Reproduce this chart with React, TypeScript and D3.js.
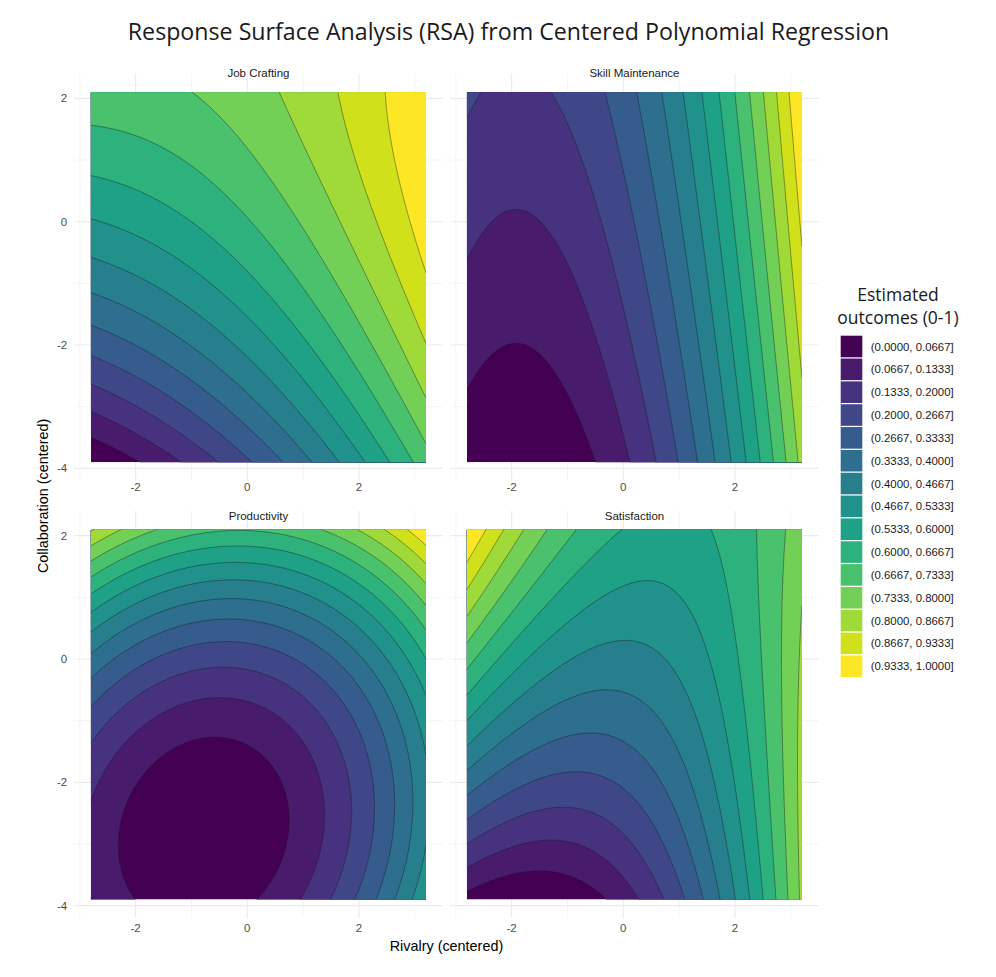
import React from "react";
import * as d3 from "d3";

// ---------- data ----------
const panelTitles = ["Job Crafting", "Skill Maintenance", "Productivity", "Satisfaction"];
// Centered quadratic RSA model per outcome (outcome scaled 0-1):
// z = b0 + b1*R + b2*C + b3*R^2 + b4*R*C + b5*C^2   (R = rivalry, C = collaboration)
const b0Intercept = [0.662, 0.2424, 0.2254, 0.4431];
const b1Rivalry = [0.0699, 0.1198, 0.0241, 0.0061];
const b2Collab = [0.0701, 0.0298, 0.1532, 0.079];
const b3RivalrySq = [0.00795, 0.0312, 0.029, 0.034];
const b4Interaction = [-0.01135, 0.0, -0.0075, -0.0279];
const b5CollabSq = [-0.00866, -0.0005, 0.0282, -0.0024];

const rivalryRange = [-2.8, 3.2];
const collabRange = [-3.9, 2.1];
const xMajorTicks = [-2, 0, 2];
const xMinorTicks = [-3, -1, 1, 3];
const yMajorTicks = [-4, -2, 0, 2];
const yMinorTicks = [-3, -1, 1];
const bandBreaks = [0, 0.0667, 0.1333, 0.2, 0.2667, 0.3333, 0.4, 0.4667, 0.5333, 0.6, 0.6667, 0.7333, 0.8, 0.8667, 0.9333, 1.0];
const bandLabels = [
  "(0.0000, 0.0667]", "(0.0667, 0.1333]", "(0.1333, 0.2000]", "(0.2000, 0.2667]",
  "(0.2667, 0.3333]", "(0.3333, 0.4000]", "(0.4000, 0.4667]", "(0.4667, 0.5333]",
  "(0.5333, 0.6000]", "(0.6000, 0.6667]", "(0.6667, 0.7333]", "(0.7333, 0.8000]",
  "(0.8000, 0.8667]", "(0.8667, 0.9333]", "(0.9333, 1.0000]",
];

// ---------- layout ----------
const W = 996;
const H = 977;
const panelLeft = [74.2, 450.2];
const panelTop = [73.7, 511];
const panelW = 368.5;
const panelH = 407;
const stripY = [72.5, 515.5];
const xLabelBaseline = [491, 932];
const xDomain = [-3.1, 3.5];
const yDomain = [-4.2, 2.4];
const NX = 181;
const NY = 181;

const colors = bandLabels.map((_, i) => d3.interpolateViridis(i / (bandLabels.length - 1)));
const sansSmall = "'Liberation Sans', Arial, sans-serif";
const sansTitle = "'Open Sans', 'Noto Sans', sans-serif";

function Panel({ idx }: { idx: number }) {
  const col = idx % 2;
  const row = Math.floor(idx / 2);
  const x0 = panelLeft[col];
  const y0 = panelTop[row];
  const sx = d3.scaleLinear().domain(xDomain).range([x0, x0 + panelW]);
  const sy = d3.scaleLinear().domain(yDomain).range([y0 + panelH, y0]);

  const [xmin, xmax] = rivalryRange;
  const [ymin, ymax] = collabRange;
  const stepX = (xmax - xmin) / (NX - 1);
  const stepY = (ymax - ymin) / (NY - 1);
  const values: number[] = new Array(NX * NY);
  for (let j = 0; j < NY; j++) {
    const c = ymax - j * stepY;
    for (let i = 0; i < NX; i++) {
      const r = xmin + i * stepX;
      values[j * NX + i] =
        b0Intercept[idx] + b1Rivalry[idx] * r + b2Collab[idx] * c +
        b3RivalrySq[idx] * r * r + b4Interaction[idx] * r * c + b5CollabSq[idx] * c * c;
    }
  }
  const thresholds = bandBreaks.slice(1, bandBreaks.length - 1);
  const contours = d3.contours().size([NX, NY]).thresholds(thresholds)(values);
  const proj = d3.geoTransform({
    point: function (px: number, py: number) {
      (this as any).stream.point(sx(xmin + (px - 0.5) * stepX), sy(ymax - (py - 0.5) * stepY));
    },
  });
  const path = d3.geoPath(proj);
  const clipId = `clip-${idx}`;
  const rx = sx(xmin), ry = sy(ymax), rw = sx(xmax) - sx(xmin), rh = sy(ymin) - sy(ymax);

  return (
    <g>
      <defs>
        <clipPath id={clipId}>
          <rect x={rx} y={ry} width={rw} height={rh} />
        </clipPath>
      </defs>
      {xMinorTicks.map((t) => (
        <line key={`xm${t}`} x1={sx(t)} x2={sx(t)} y1={y0} y2={y0 + panelH} stroke="#ebebeb" strokeWidth={0.55} />
      ))}
      {yMinorTicks.map((t) => (
        <line key={`ym${t}`} y1={sy(t)} y2={sy(t)} x1={x0} x2={x0 + panelW} stroke="#ebebeb" strokeWidth={0.55} />
      ))}
      {xMajorTicks.map((t) => (
        <line key={`xM${t}`} x1={sx(t)} x2={sx(t)} y1={y0} y2={y0 + panelH} stroke="#ebebeb" strokeWidth={1.1} />
      ))}
      {yMajorTicks.map((t) => (
        <line key={`yM${t}`} y1={sy(t)} y2={sy(t)} x1={x0} x2={x0 + panelW} stroke="#ebebeb" strokeWidth={1.1} />
      ))}
      <g clipPath={`url(#${clipId})`}>
        <rect x={rx} y={ry} width={rw} height={rh} fill={colors[0]} />
        {contours.map((c, i) => (
          <path key={`f${i}`} d={path(c as any) || ""} fill={colors[i + 1]} stroke="none" />
        ))}
        {contours.map((c, i) => (
          <path key={`l${i}`} d={path(c as any) || ""} fill="none" stroke="#1a1a1a" strokeOpacity={0.6} strokeWidth={0.7} />
        ))}
      </g>
      <text x={x0 + panelW / 2} y={stripY[row]} textAnchor="middle" dominantBaseline="central" fontFamily={sansSmall} fontSize={11.5} fill="#1a1a1a">
        {panelTitles[idx]}
      </text>
      {xMajorTicks.map((t) => (
        <text key={`xt${t}`} x={sx(t)} y={xLabelBaseline[row]} textAnchor="middle" fontFamily={sansSmall} fontSize={11.5} fill="#4d4d4d">
          {String(t)}
        </text>
      ))}
      {col === 0 &&
        yMajorTicks.map((t) => (
          <text key={`yt${t}`} x={x0 - 7} y={sy(t)} textAnchor="end" dominantBaseline="central" fontFamily={sansSmall} fontSize={11.5} fill="#4d4d4d">
            {String(t)}
          </text>
        ))}
    </g>
  );
}

function Legend() {
  const left = 840.7;
  const top = 335.7;
  const pitch = 22.84;
  const key = 21.6;
  const sl = d3.scaleBand<number>().domain(d3.range(bandLabels.length)).range([top, top + pitch * bandLabels.length]);
  return (
    <g>
      <text x={898} y={294} textAnchor="middle" dominantBaseline="central" fontFamily={sansTitle} fontSize={17.5} fill="#1a1a1a">
        Estimated
      </text>
      <text x={898} y={316.5} textAnchor="middle" dominantBaseline="central" fontFamily={sansTitle} fontSize={17.5} fill="#1a1a1a">
        outcomes (0-1)
      </text>
      {bandLabels.map((lab, i) => (
        <g key={lab}>
          <rect x={left} y={sl(i)!} width={key} height={key} fill={colors[i]} />
          <text x={870.7} y={(sl(i) as number) + key / 2} dominantBaseline="central" fontFamily={sansSmall} fontSize={11.4} fill="#1a1a1a">
            {lab}
          </text>
        </g>
      ))}
    </g>
  );
}

export default function App() {
  const areaCenterX = (panelLeft[0] + panelLeft[1] + panelW) / 2;
  const areaCenterY = (panelTop[0] + panelTop[1] + panelH) / 2;
  return (
    <svg width={W} height={H} style={{ position: "absolute", left: 0, top: 0, background: "#fff" }}>
      <rect x={0} y={0} width={W} height={H} fill="#fff" />
      <text x={508.5} y={40} textAnchor="middle" fontFamily={sansTitle} fontSize={23.2} fill="#1a1a1a">
        Response Surface Analysis (RSA) from Centered Polynomial Regression
      </text>
      {panelTitles.map((_, i) => (
        <Panel key={i} idx={i} />
      ))}
      <text x={areaCenterX} y={946} textAnchor="middle" dominantBaseline="central" fontFamily={sansSmall} fontSize={14.4} fill="#000">
        Rivalry (centered)
      </text>
      <text
        transform={`translate(42.5, ${areaCenterY}) rotate(-90)`}
        textAnchor="middle"
        dominantBaseline="central"
        fontFamily={sansSmall}
        fontSize={14.4}
        fill="#000"
      >
        Collaboration (centered)
      </text>
      <Legend />
    </svg>
  );
}
